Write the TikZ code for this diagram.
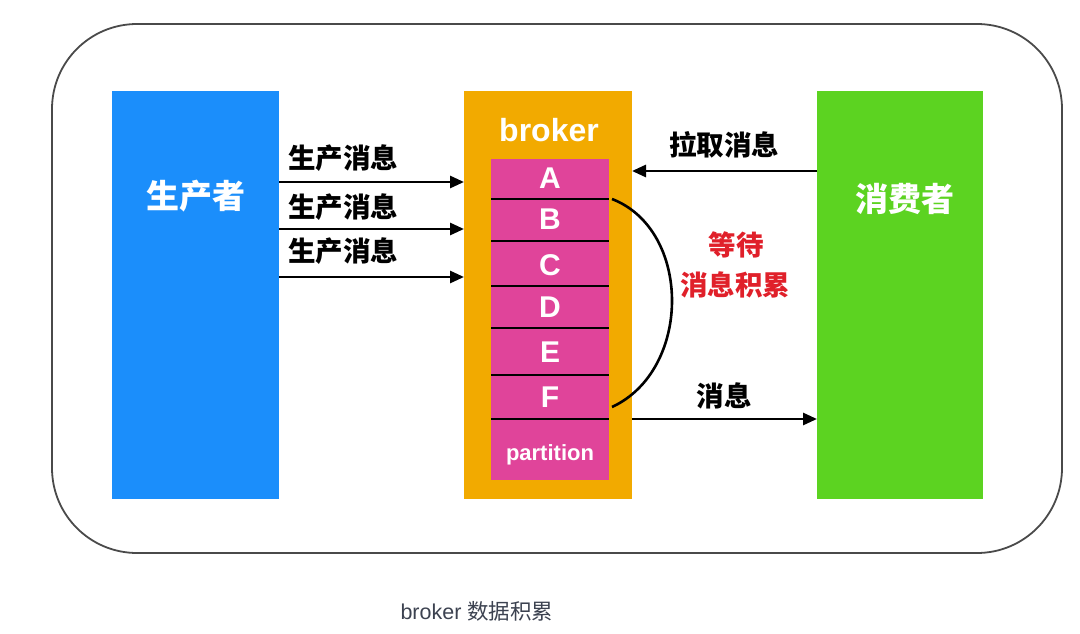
\documentclass[tikz,border=0pt]{standalone}
\usepackage{fontspec}
\setmainfont{Liberation Sans}
\newfontfamily\cjk{Noto Sans CJK SC}
\usetikzlibrary{arrows.meta}
\definecolor{pblue}{HTML}{1B8EFB}
\definecolor{porange}{HTML}{F2AA00}
\definecolor{ppink}{HTML}{E0449A}
\definecolor{pgreen}{HTML}{5CD321}
\definecolor{pred}{HTML}{E0202A}
\definecolor{pframe}{HTML}{4A4A4A}
\definecolor{pcap}{HTML}{3C4250}
\begin{document}
\begin{tikzpicture}[x=1pt,y=-1pt,
  block/.style={inner sep=0pt, outer sep=0pt, draw=none},
  bigtext/.style={text=white, font=\cjk\bfseries\fontsize{33}{36}\selectfont},
  letter/.style={text=white, font=\bfseries\fontsize{30}{32}\selectfont, inner sep=0pt},
  lbl/.style={font=\cjk\bfseries\fontsize{27.5}{30}\selectfont, inner sep=0pt},
  arr/.style={line width=2.8pt, -{Triangle[length=14pt,width=12pt]}},
  sep/.style={line width=2.8pt, black},
]
\useasboundingbox (0,0) rectangle (1080,634);
% outer frame
\draw[pframe, line width=1.8pt, rounded corners=85pt] (52,24) rectangle (1062,553);
% blocks
\node[block, fill=pblue, minimum width=167pt, minimum height=408pt] (prod) at (195.5,295) {};
\node[block, fill=porange, minimum width=168pt, minimum height=408pt] (broker) at (548,295) {};
\node[block, fill=pgreen, minimum width=166pt, minimum height=408pt] (cons) at (900,295) {};
\node[block, fill=ppink, minimum width=118pt, minimum height=321pt] (part) at (550,319.5) {};
% block labels
\node[bigtext] (prodl) at (196,196) {生产者};
\node[bigtext] (consl) at (905,199) {消费者};
\node[text=white, font=\bfseries\fontsize{32}{34}\selectfont] (brokl) at (549,130) {broker};
% partition cells
\foreach \n/\y in {A/178,B/219,C/265,D/307,E/352,F/397}{
  \node[letter] (cell\n) at (550,\y) {\n};
}
\node[text=white, font=\bfseries\fontsize{22}{24}\selectfont, inner sep=0pt] (partl) at (550,455) {partition};
\foreach \i/\y in {1/199,2/241,3/286,4/328,5/375,6/419}{
  \coordinate (s\i) at (0,\y);
  \draw[sep] (part.west |- s\i) -- (part.east |- s\i);
}
% producer arrows
\foreach \i/\y/\ly in {1/182/158,2/229/207,3/277/251}{
  \coordinate (p\i) at (0,\y);
  \draw[arr] (prod.east |- p\i) -- (broker.west |- p\i);
  \node[lbl] (pl\i) at (343,\ly) {生产消息};
}
% pull arrow
\coordinate (q1) at (0,171);
\draw[arr] (cons.west |- q1) -- (broker.east |- q1);
\node[lbl] (pull) at (724,145) {拉取消息};
% message arrow
\coordinate (q2) at (0,419);
\draw[arr] (broker.east |- q2) -- (cons.west |- q2);
\node[lbl] (msg) at (724,396) {消息};
% curve
\coordinate (c1) at (612,199);
\coordinate (c2) at (612,407);
\draw[line width=2.6pt] (c1) .. controls (692,230) and (692,370) .. (c2);
\node[lbl, text=pred] (wait1) at (736,245) {等待};
\node[lbl, text=pred] (wait2) at (735,285) {消息积累};
% caption
\node[text=pcap, inner sep=0pt] (cap) at (477,611) {\fontsize{21.5}{24}\selectfont broker {\cjk 数据积累}};
\end{tikzpicture}
\end{document}
